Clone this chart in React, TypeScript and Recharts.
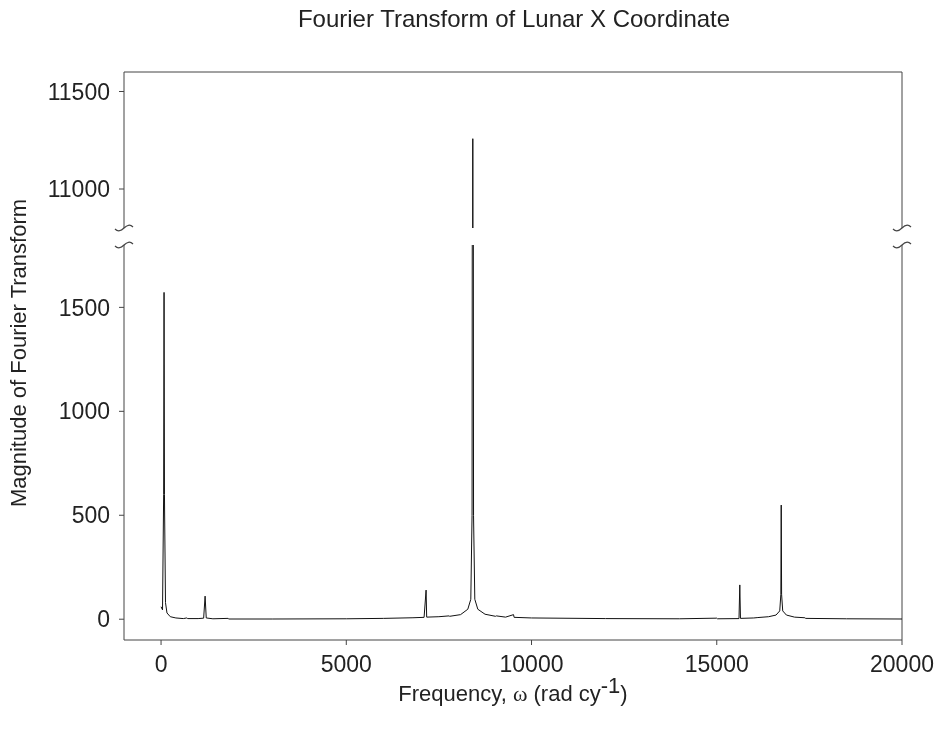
import { LineChart, Line, XAxis, YAxis, ReferenceLine, ReferenceDot } from 'recharts';

// frequency (rad/cy) and magnitude
const freq = [
  0, 40, 70, 81, 92, 120, 160, 250, 400, 600, 694, 720, 1000, 1150, 1189, 1220, 1400, 1810, 1830,
  3000, 5000, 6000, 6800, 7100, 7154, 7170, 7500, 7775, 7790, 8085, 8280, 8361, 8395, 8405, 8415,
  8425, 8435, 8469, 8550, 8745, 9028, 9050, 9300, 9514, 9530, 10000, 12000, 14000, 15000, 15020,
  15600, 15622, 15640, 16000, 16110, 16400, 16600, 16700, 16730, 16740, 16750, 16780, 16880, 17100,
  17380, 17400, 18500, 20000,
];
const magnitude = [
  60, 45, 600, 1572, 600, 80, 30, 12, 6, 3, 6, 3, 3, 5, 111, 6, 2, 4, 1,
  1, 2, 4, 7, 9, 140, 10, 12, 16, 14, 22, 48, 96, 500, 3000, 11258,
  3000, 500, 96, 48, 24, 14, 16, 10, 22, 9, 6, 3, 2, 5, 2,
  3, 165, 4, 6, 8, 12, 20, 40, 120, 549, 120, 40, 20, 10,
  7, 4, 2, 1,
];

const xTicks = [0, 5000, 10000, 15000, 20000];
const lowerTicks = [0, 500, 1000, 1500];
const upperTicks = [11000, 11500];

const data = freq.map((f, i) => ({ f, m: magnitude[i] }));

const W = 937;
const H = 731;
const font = '"Liberation Sans", Arial, sans-serif';
const axisColor = '#444';
const tickStyle = { fill: '#222', fontSize: 23, fontFamily: font };

const BreakMark = (props: any) => {
  const { cx, cy } = props;
  return (
    <path
      d={`M${cx - 9},${cy + 1} C${cx - 6},${cy + 4} ${cx - 3},${cy + 3} ${cx},${cy} C${cx + 3},${cy - 3} ${cx + 6},${cy - 4} ${cx + 9},${cy - 1}`}
      fill="none"
      stroke={axisColor}
      strokeWidth={1.2}
    />
  );
};

export default function App() {
  return (
    <div style={{ position: 'fixed', left: 0, top: 0, width: W, height: H, background: '#fff', fontFamily: font }}>
      <div style={{ position: 'absolute', top: 5, left: 0, width: 1028, textAlign: 'center', fontSize: 24, color: '#222' }}>
        Fourier Transform of Lunar X Coordinate
      </div>

      {/* upper segment */}
      <div style={{ position: 'absolute', left: 0, top: 0 }}>
        <LineChart width={W} height={H} data={data} margin={{ top: 72, right: 35, bottom: 503, left: 0 }}>
          <XAxis type="number" dataKey="f" domain={[-1000, 20000]} hide allowDataOverflow />
          <YAxis
            type="number"
            domain={[10800, 11600]}
            ticks={upperTicks}
            allowDataOverflow
            width={124}
            stroke={axisColor}
            tick={tickStyle}
            tickSize={5}
            tickMargin={9}
          />
          <ReferenceLine y={11600} stroke={axisColor} />
          <ReferenceLine x={20000} stroke={axisColor} />
          <ReferenceDot x={-1000} y={10800} shape={BreakMark} ifOverflow="visible" />
          <ReferenceDot x={20000} y={10800} shape={BreakMark} ifOverflow="visible" />
          <Line type="linear" dataKey="m" stroke="#111" strokeWidth={1} dot={false} isAnimationActive={false} />
        </LineChart>
      </div>

      {/* lower segment */}
      <div style={{ position: 'absolute', left: 0, top: 0 }}>
        <LineChart width={W} height={H} data={data} margin={{ top: 245, right: 35, bottom: 51, left: 0 }}>
          <XAxis
            type="number"
            dataKey="f"
            domain={[-1000, 20000]}
            ticks={xTicks}
            allowDataOverflow
            height={40}
            stroke={axisColor}
            tick={tickStyle}
            tickSize={5}
            tickMargin={11}
          />
          <YAxis
            type="number"
            domain={[-100, 1800]}
            ticks={lowerTicks}
            allowDataOverflow
            width={124}
            stroke={axisColor}
            tick={tickStyle}
            tickSize={5}
            tickMargin={9}
          />
          <ReferenceLine x={20000} stroke={axisColor} />
          <ReferenceDot x={-1000} y={1800} shape={BreakMark} ifOverflow="visible" />
          <ReferenceDot x={20000} y={1800} shape={BreakMark} ifOverflow="visible" />
          <Line type="linear" dataKey="m" stroke="#111" strokeWidth={1} dot={false} isAnimationActive={false} />
        </LineChart>
      </div>

      <div style={{ position: 'absolute', top: 673, left: 0, width: 1026, textAlign: 'center', fontSize: 22, color: '#222' }}>
        Frequency, <span style={{ fontFamily: '"Liberation Serif", "Times New Roman", serif' }}>ω</span> (rad cy
        <sup style={{ fontSize: 22 }}>-1</sup>)
      </div>
      <div
        style={{
          position: 'absolute',
          left: 19,
          top: 353,
          transform: 'translate(-50%, -50%) rotate(-90deg)',
          whiteSpace: 'nowrap',
          fontSize: 22,
          color: '#222',
        }}
      >
        Magnitude of Fourier Transform
      </div>
    </div>
  );
}
